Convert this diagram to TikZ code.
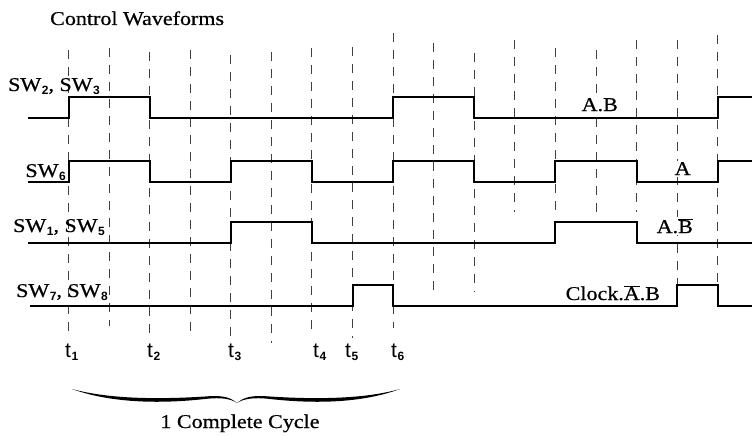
\documentclass[tikz,border=0pt]{standalone}
\usepackage{fontspec}
\setmainfont{Liberation Serif}[FakeStretch=1.13,FakeBold=0.6]
\newfontfamily\subfont{Liberation Sans}
\newcommand{\lblfont}{\fontsize{19.5}{22}\selectfont}
\newcommand{\sbs}[1]{\kern0.6pt\raisebox{-3.5pt}{\subfont\bfseries\fontsize{12}{12}\selectfont #1}}
\newcommand{\tlab}[1]{{\subfont\fontsize{21}{22}\selectfont t}\sbs{#1}}
\newcommand{\ovl}[1]{$\overline{\mbox{#1}}$}
\begin{document}
\begin{tikzpicture}[x=1pt,y=-1pt]
\tikzset{
  wave/.style={line width=2pt, line join=miter, black},
  gridline/.style={line width=1pt, black!75, dash pattern=on 9pt off 8pt},
  lbl/.style={inner sep=0pt, anchor=base west, font=\lblfont},
  tag/.style={inner sep=1.5pt, anchor=base west, font=\lblfont, fill=white},
  tl/.style={inner sep=0pt, anchor=base west}
}
\useasboundingbox (0,0) rectangle (752,436);
% grid lines
\foreach \i/\tp/\bt in {0/50/338,1/48/326,2/52/334,3/50/334,4/55/340,5/52/343,6/48/334,7/47/338,8/33/328,
  9/43/295,10/53/292,11/40/212,12/48/212,13/50/214,14/40/212,15/40/284,16/35/284}{
  \coordinate (g\i t) at ({68.5+40.58*\i},\tp);
  \coordinate (g\i b) at ({68.5+40.58*\i},\bt);
  \draw[gridline] (g\i t) -- (g\i b);
}
% labels
\node[lbl] (title) at (50,25) {Control Waveforms};
\node[lbl] (l23) at (8,91) {SW\sbs{2}, SW\sbs{3}};
\node[lbl, anchor=base east] (l6) at (66,177) {SW\sbs{6}};
\node[lbl] (l15) at (13,232) {SW\sbs{1}, SW\sbs{5}};
\node[lbl] (l78) at (16,297) {SW\sbs{7}, SW\sbs{8}};
\node[tag] (eAB) at (580,111) {A.B};
\node[tag] (eA) at (673,175) {A};
\node[tag] (eAnB) at (655,233) {A.\ovl{B}};
\node[tag] (eCl) at (564,300) {Clock.\ovl{A}.B};
\node[tl] (t1) at (65,357) {\tlab{1}};
\node[tl] (t2) at (147,357) {\tlab{2}};
\node[tl] (t3) at (228,357) {\tlab{3}};
\node[tl] (t4) at (313,357) {\tlab{4}};
\node[tl] (t5) at (345,357) {\tlab{5}};
\node[tl] (t6) at (391,357) {\tlab{6}};
\node[lbl, anchor=base] (cyc) at (240,428) {1 Complete Cycle};
% waveforms
\draw[wave] (28,117.7) -| ({68.5+40.58*0},97) -| ({68.5+40.58*2},117.7) -| ({68.5+40.58*8},97)
  -| ({68.5+40.58*10},117.7) -| ({68.5+40.58*16},97) -- (752,97);
\draw[wave] (28,181.7) -| ({68.5+40.58*0},161) -| ({68.5+40.58*2},181.7) -| ({68.5+40.58*4},161)
  -| ({68.5+40.58*6},181.7) -| ({68.5+40.58*8},161) -| ({68.5+40.58*10},181.7)
  -| ({68.5+40.58*12},161) -| ({68.5+40.58*14},181.7) -| ({68.5+40.58*16},161) -- (752,161);
\draw[wave] (28,243.3) -| ({68.5+40.58*4},221.7) -| ({68.5+40.58*6},243.3) -| ({68.5+40.58*12},221.7)
  -| ({68.5+40.58*14},243.3) -- (752,243.3);
\draw[wave] (30,306) -| ({68.5+40.58*7},285) -| ({68.5+40.58*8},306) -| ({68.5+40.58*15},285)
  -| ({68.5+40.58*16},306) -- (752,306);
% brace
\fill (72,389) .. controls (105,401) and (150,405) .. (205,399) .. controls (222,397) and (231,399) .. (237,403)
  .. controls (230,397) and (222,395) .. (205,396.5) .. controls (150,400) and (105,398) .. (72,389) -- cycle;
\fill (400,389) .. controls (368,401) and (324,405) .. (270,399) .. controls (253,397) and (243,399) .. (237,403)
  .. controls (244,397) and (252,395) .. (270,396.5) .. controls (324,400) and (368,398) .. (400,389) -- cycle;
\end{tikzpicture}
\end{document}
